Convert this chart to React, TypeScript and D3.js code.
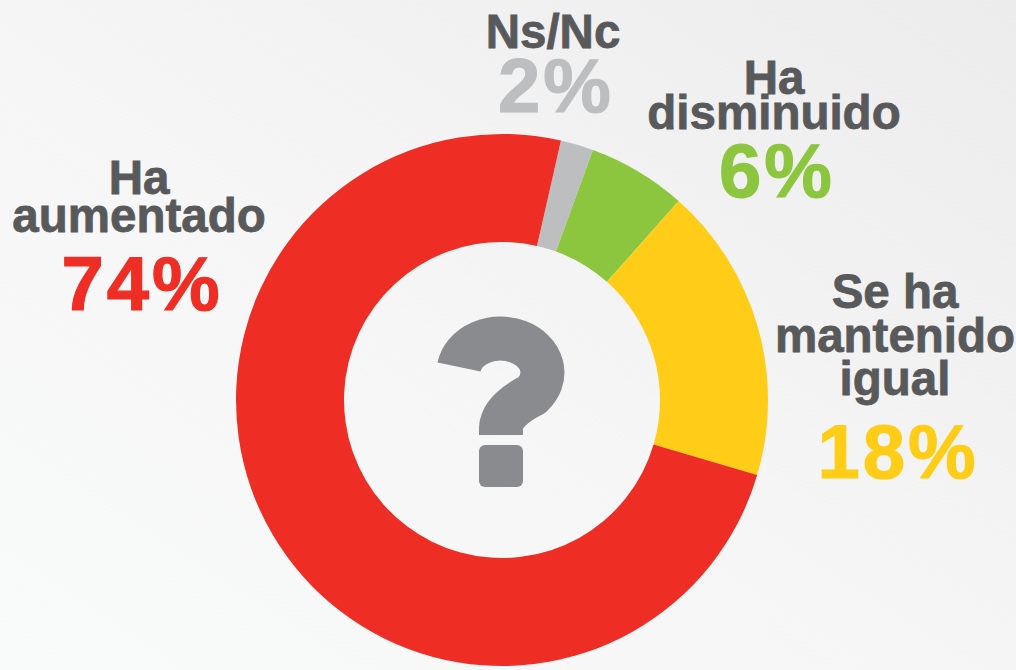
import React, { useEffect, useRef } from 'react';
import * as d3 from 'd3';

// answers, clockwise from the top
const categories = ['Ns/Nc', 'Ha disminuido', 'Se ha mantenido igual', 'Ha aumentado'];
const values = [2, 6, 18, 74];
const sliceColors = ['#bcbec0', '#8cc63f', '#ffcd17', '#ee2e24'];

// label lines as printed
const labelLines = [['Ns/Nc'], ['Ha', 'disminuido'], ['Se ha', 'mantenido', 'igual'], ['Ha', 'aumentado']];
const percentLabels = ['2%', '6%', '18%', '74%'];

export default function App() {
    const ref = useRef<SVGSVGElement>(null);

    useEffect(() => {
        const svg = d3.select(ref.current);
        svg.selectAll('*').remove();

        const width = 1016;
        const height = 670;
        const cx = 502;
        const cy = 400;
        const outerR = 266;
        const innerR = 158;

        const defs = svg.append('defs');
        const grad = defs.append('linearGradient')
            .attr('id', 'bg')
            .attr('x1', 0).attr('y1', 1)
            .attr('x2', 1).attr('y2', 0);
        grad.append('stop').attr('offset', '0%').attr('stop-color', '#f9fafa');
        grad.append('stop').attr('offset', '45%').attr('stop-color', '#f6f6f6');
        grad.append('stop').attr('offset', '100%').attr('stop-color', '#ececec');

        svg.append('rect')
            .attr('width', width)
            .attr('height', height)
            .attr('fill', 'url(#bg)');

        const start = (12.8 * Math.PI) / 180;
        const pie = d3.pie<number>()
            .sort(null)
            .value(d => d)
            .startAngle(start)
            .endAngle(start + 2 * Math.PI);

        const arc = d3.arc<d3.PieArcDatum<number>>()
            .innerRadius(innerR)
            .outerRadius(outerR);

        const ring = svg.append('g').attr('transform', `translate(${cx},${cy})`);
        ring.selectAll('path')
            .data(pie(values))
            .enter()
            .append('path')
            .attr('d', arc)
            .attr('fill', (d, i) => sliceColors[i]);

        // question mark in the hole
        const q = ring.append('g').attr('fill', '#8a8b8e');
        q.append('path')
            .attr('d', 'M -43 -33 A 42 34 0 1 1 30 -5 Q 0 10 -1 28 L -1 35')
            .attr('fill', 'none')
            .attr('stroke', '#8a8b8e')
            .attr('stroke-width', 44)
            .attr('stroke-linejoin', 'round');
        q.append('rect')
            .attr('x', -23).attr('y', 45)
            .attr('width', 44).attr('height', 42)
            .attr('rx', 6);

        // label blocks: centre x, baselines of the lines, baseline of the percent
        const blocks = [
            { x: 553, lines: [48], pct: 112 },
            { x: 774, lines: [94, 129], pct: 197 },
            { x: 895, lines: [308, 352, 395], pct: 478 },
            { x: 139, lines: [194, 232], pct: 310 },
        ];

        const font = "'Liberation Sans', Arial, Helvetica, sans-serif";

        blocks.forEach((b, i) => {
            const g = svg.append('g').attr('text-anchor', 'middle').attr('font-family', font).attr('font-weight', 700);
            labelLines[i].forEach((t, j) => {
                g.append('text')
                    .attr('x', b.x)
                    .attr('y', b.lines[j])
                    .attr('font-size', 47.5)
                    .attr('fill', '#58595b')
                    .attr('stroke', '#58595b')
                    .attr('stroke-width', 0.8)
                    .text(t);
            });
            // letter-spacing leaves a gap after the last glyph, so nudge right
            g.append('text')
                .attr('x', b.x + 3)
                .attr('y', b.pct)
                .attr('font-size', 76)
                .attr('letter-spacing', 3)
                .attr('fill', sliceColors[i])
                .attr('stroke', sliceColors[i])
                .attr('stroke-width', 1.2)
                .text(percentLabels[i]);
        });
    }, []);

    return (
        <svg ref={ref} width={1016} height={670}
             style={{ position: 'absolute', left: 0, top: 0, display: 'block' }}
             aria-label={categories.join(', ')} />
    );
}
